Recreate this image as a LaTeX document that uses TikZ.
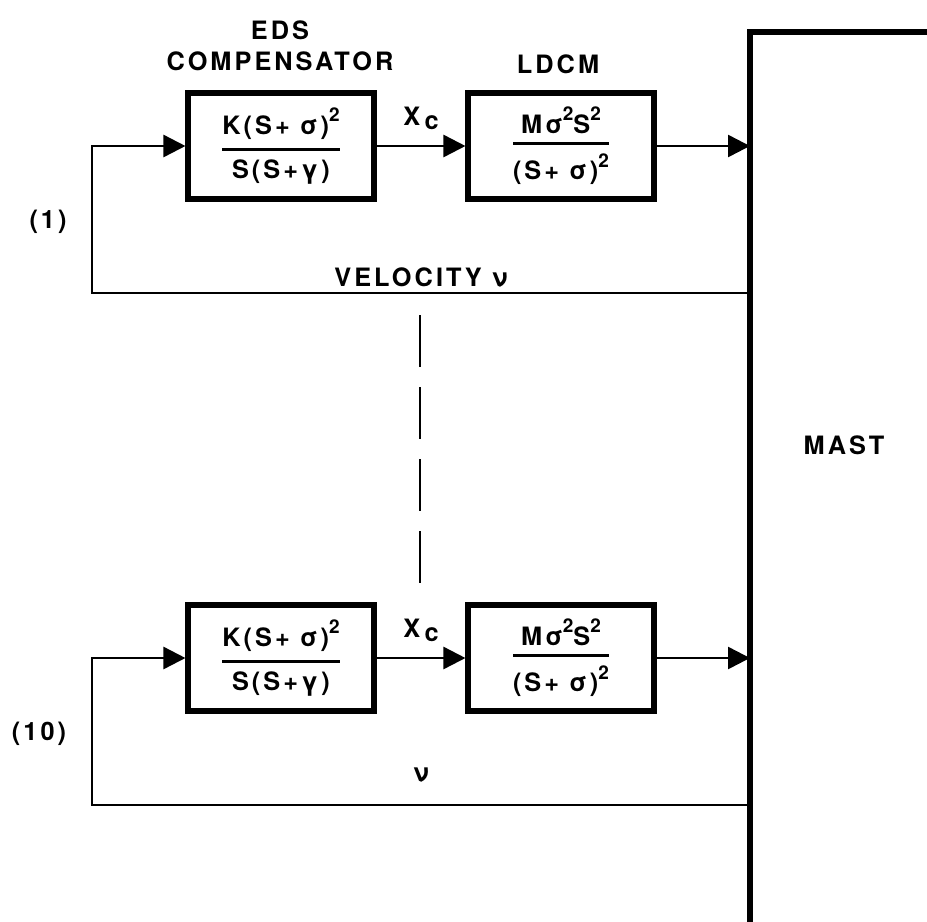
\documentclass[tikz,border=0pt]{standalone}
\usepackage{fontspec}
\setmainfont[LetterSpace=12]{TeX Gyre Heros}
\usetikzlibrary{arrows.meta,positioning,calc}
\newcommand{\blockfrac}[2]{$\displaystyle{\hbox{#1}\above 2pt\hbox{#2}}$}
\newcommand{\pw}[1]{\raisebox{0.5em}{\fontsize{13.5}{14}\selectfont #1}}

\begin{document}
\begin{tikzpicture}[font=\fontsize{18}{22}\selectfont\bfseries,
block/.style={draw,line width=3.6pt,minimum width=4.65cm,minimum height=2.65cm,inner sep=2pt},
arrow/.style={-{Triangle[length=5.5mm,width=5.5mm]},line width=1.8pt}]
\clip (0,0) rectangle (23.175,-23.025);
\node[draw,line width=3.6pt,outer sep=0pt,anchor=north west,minimum width=8cm,minimum height=30cm] (mast) at (18.75,-0.8) {};
\node (mastlabel) at (21.1,-11.125) {MAST};
\node[align=center] (edslabel) at (7.0,-1.15) {EDS\\COMPENSATOR};
\node (ldcmlabel) at (13.95,-1.6) {LDCM};
\node[block] (comp1) at (7.025,-3.65) {\blockfrac{K(S+ σ)\pw{2}}{S(S+γ)}};
\node[block] (ldcm1) at (14.025,-3.65) {\blockfrac{Mσ\pw{2}S\pw{2}}{(S+ σ)\pw{2}}};
\node[block] (comp10) at (7.025,-16.45) {\blockfrac{K(S+ σ)\pw{2}}{S(S+γ)}};
\node[block] (ldcm10) at (14.025,-16.45) {\blockfrac{Mσ\pw{2}S\pw{2}}{(S+ σ)\pw{2}}};
\node (loop1) at (1.2,-5.55) {(1)};
\node (loop10) at (0.975,-18.35) {(10)};
\coordinate (fb1) at (2.3,-7.325);
\coordinate (fb10) at (2.3,-20.125);
% loop 1
\draw[arrow] (comp1.east)--node[above=7pt]{X\,\raisebox{-3pt}{c}}(ldcm1.west);
\draw[arrow] (ldcm1.east)--(ldcm1.east -| mast.west);
\draw[arrow] (fb1 -| mast.west)--node[above]{VELOCITY ν}(fb1)|-(comp1.west);
% loop 10
\draw[arrow] (comp10.east)--node[above=7pt]{X\,\raisebox{-3pt}{c}}(ldcm10.west);
\draw[arrow] (ldcm10.east)--(ldcm10.east -| mast.west);
\draw[arrow] (fb10 -| mast.west)--node[above=12pt]{ν}(fb10)|-(comp10.west);
\draw[line width=1.8pt,dash pattern=on 1.3cm off 0.5cm] (10.5,-7.875)--(10.5,-14.575);
\end{tikzpicture}
\end{document}
